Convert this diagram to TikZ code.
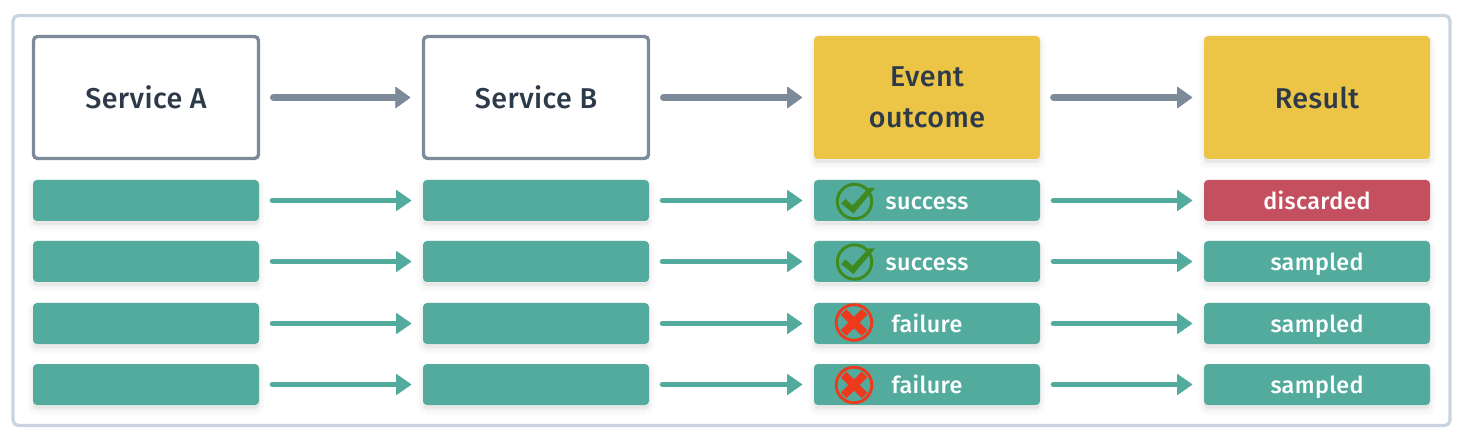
\documentclass[tikz,border=0pt]{standalone}
\usepackage{fontspec}
\setmainfont{Fira Sans Medium}[LetterSpace=1.5]
\usetikzlibrary{arrows.meta}
\definecolor{frameC}{HTML}{C9D4DF}
\definecolor{slateC}{HTML}{7D8A9A}
\definecolor{inkC}{HTML}{2D3A4A}
\definecolor{tealC}{HTML}{52AB9D}
\definecolor{goldC}{HTML}{ECC546}
\definecolor{redC}{HTML}{C4505F}
\definecolor{okC}{HTML}{3F8A1E}
\definecolor{badC}{HTML}{EE3A1C}
\tikzset{
  x=0.75pt,y=-0.75pt,
  softshadow/.style={
    preaction={draw=black,fill=black,draw opacity=.012,fill opacity=.012,line width=9pt,transform canvas={yshift=-3pt}},
    preaction={draw=black,fill=black,draw opacity=.015,fill opacity=.015,line width=6pt,transform canvas={yshift=-3pt}},
    preaction={draw=black,fill=black,draw opacity=.02,fill opacity=.02,line width=3pt,transform canvas={yshift=-2.5pt}}},
  box/.style={minimum width=226*.75pt,inner sep=0pt,rounded corners=3pt,align=center},
  header/.style={box,minimum height=123*.75pt,font=\fontsize{21.5pt}{30.5pt}\selectfont},
  svc/.style={header,draw=slateC,line width=2.5pt,fill=white,text=inkC,minimum width=225*.75pt,minimum height=122*.75pt},
  ev/.style={header,fill=goldC,text=inkC,softshadow},
  rowbox/.style={box,minimum height=41*.75pt,fill=tealC,text=white,softshadow,text height=15.5pt,text depth=2pt,font=\fontsize{17.5pt}{20pt}\selectfont},
  discard/.style={rowbox,fill=redC},
  bigarrow/.style={draw=slateC,line width=5.2pt,line cap=round,shorten <=10pt,shorten >=8.6pt,-{Triangle[length=11.5pt,width=16.5pt,round,line width=.5pt]}},
  smallarrow/.style={draw=tealC,line width=4.4pt,line cap=round,shorten <=10pt,shorten >=8.6pt,-{Triangle[length=11.5pt,width=16pt,round,line width=.5pt]}},
  okring/.style={draw=okC,line width=2.2pt},
  okmark/.style={fill=okC},
  badring/.style={draw=badC,line width=2.2pt},
  badmark/.style={draw=badC,line width=6pt},
  ok/.pic={
    \draw[okring] (0,0) circle (17.2);
    \fill[okmark] (-13.5,2) -- (-9,-2.5) -- (-2,4) -- (14,-13.5) -- (20.5,-13.5) -- (-1,12) -- cycle;
  },
  bad/.pic={
    \draw[badring] (0,0) circle (17.8);
    \draw[badmark] (-10.5,-10.5) -- (10.5,10.5) (-10.5,10.5) -- (10.5,-10.5);
  }
}
\begin{document}
\begin{tikzpicture}
\useasboundingbox (0,0) rectangle (1460,438);
\fill[white] (0,0) rectangle (1460,438);
\node[draw=frameC,line width=2.4pt,rounded corners=4pt,minimum width=1437*.75pt,minimum height=410*.75pt,inner sep=0pt] (frame) at (731.5,220.5) {};
% header
\node[svc] (h1) at (146,97.5) {Service A};
\node[svc] (h2) at (536,97.5) {Service B};
\node[ev] (h3) at (927,97.5) {Event\\outcome};
\node[ev] (h4) at (1317,97.5) {Result};
\draw[bigarrow] (h1) -- (h2);
\draw[bigarrow] (h2) -- (h3);
\draw[bigarrow] (h3) -- (h4);
% rows
\node[rowbox] (a1) at (146,200.5) {};
\node[rowbox] (b1) at (536,200.5) {};
\node[rowbox] (c1) at (927,200.5) {success};
\node[discard] (d1) at (1317,200.5) {discarded};
\node[rowbox] (a2) at (146,261.5) {};
\node[rowbox] (b2) at (536,261.5) {};
\node[rowbox] (c2) at (927,261.5) {success};
\node[rowbox] (d2) at (1317,261.5) {sampled};
\node[rowbox] (a3) at (146,323.5) {};
\node[rowbox] (b3) at (536,323.5) {};
\node[rowbox] (c3) at (927,323.5) {failure};
\node[rowbox] (d3) at (1317,323.5) {sampled};
\node[rowbox] (a4) at (146,384.5) {};
\node[rowbox] (b4) at (536,384.5) {};
\node[rowbox] (c4) at (927,384.5) {failure};
\node[rowbox] (d4) at (1317,384.5) {sampled};
\foreach \r in {1,2,3,4}{
  \draw[smallarrow] (a\r) -- (b\r);
  \draw[smallarrow] (b\r) -- (c\r);
  \draw[smallarrow] (c\r) -- (d\r);
}
% status icons
\pic at (854.5,201.5) {ok};
\pic at (854.5,262) {ok};
\pic at (854,322.5) {bad};
\pic at (854,385) {bad};
\end{tikzpicture}
\end{document}
